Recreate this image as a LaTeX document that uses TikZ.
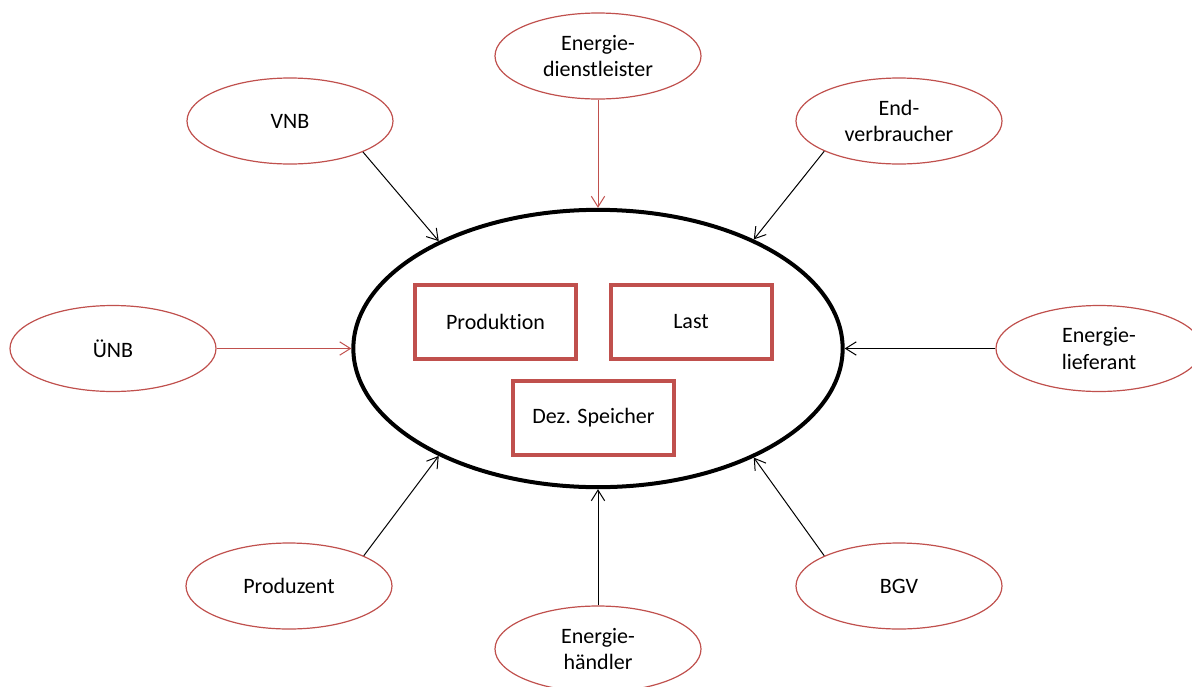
\documentclass[tikz,border=0pt]{standalone}
\usepackage{fontspec}
\setmainfont{Carlito}[Ligatures=NoCommon]
\usetikzlibrary{shapes.geometric,arrows.meta}
\definecolor{accentred}{HTML}{C0504D}
\begin{document}
\begin{tikzpicture}[x=0.75pt,y=-0.75pt,
  labelfont/.style={font=\fontsize{16.5}{19.8}\selectfont},
  actor/.style={ellipse, draw=accentred, line width=0.9pt, fill=white,
    minimum width=154.5pt, minimum height=64.5pt, inner sep=0pt,
    align=center, labelfont},
  system/.style={ellipse, draw=black, line width=3pt,
    minimum width=367pt, minimum height=208pt, inner sep=0pt},
  part/.style={rectangle, draw=accentred, line width=3pt,
    minimum width=120.75pt, minimum height=55.5pt, inner sep=0pt,
    align=center, labelfont},
  conn/.style={line width=0.75pt, -{Straight Barb[length=8pt,width=10pt]}}
]
\useasboundingbox (0,0) rectangle (1192,686);

% central system with its components
\node[system] (main) at (598,348.5) {};
\node[part] (produktion) at (495.5,322) {Produktion};
\node[part] (last) at (691,322) {Last};
\node[part] (speicher) at (593.5,418) {Dez. Speicher};

% surrounding market roles
\node[actor] (dienst) at (598,56) {Energie-\\dienstleister};
\node[actor] (vnb) at (290,121) {VNB};
\node[actor] (endv) at (899,121) {End-\\verbraucher};
\node[actor] (uenb) at (113,348.5) {ÜNB};
\node[actor] (lief) at (1099,348.5) {Energie-\\lieferant};
\node[actor] (produzent) at (289,586) {Produzent};
\node[actor] (bgv) at (899,586) {BGV};
\node[actor] (haendler) at (598,649) {Energie-\\händler};

% connections towards the system
\draw[conn, accentred] (dienst.south) -- (main.north);
\draw[conn] (vnb.-23) -- (main.146);
\draw[conn] (endv.202) -- (main.35);
\draw[conn, accentred] (uenb.east) -- (main.west);
\draw[conn] (lief.west) -- (main.east);
\draw[conn] (produzent.22) -- (main.214);
\draw[conn] (bgv.158) -- (main.-35);
\draw[conn] (haendler.north) -- (main.south);
\end{tikzpicture}
\end{document}
